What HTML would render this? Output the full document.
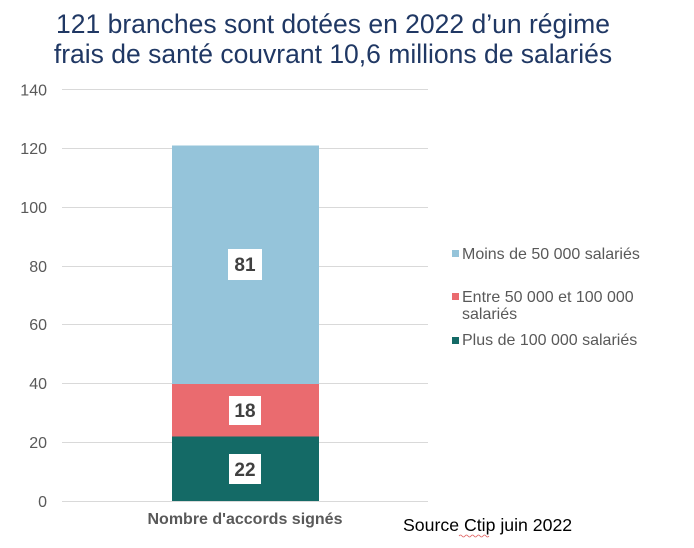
<!DOCTYPE html>
<html><head><meta charset="utf-8"><style>
html,body{margin:0;padding:0;background:#fff;}
svg{display:block;}
</style></head><body>
<svg width="694" height="548" viewBox="0 0 694 548" xmlns="http://www.w3.org/2000/svg" font-family="Liberation Sans, Arial, sans-serif">
<rect width="694" height="548" fill="#fff"/>
<text x="333" y="33" text-anchor="middle" font-size="26.5" fill="#203864">121 branches sont dotées en 2022 d’un régime</text>
<text x="333" y="63" text-anchor="middle" font-size="26.5" fill="#203864">frais de santé couvrant 10,6 millions de salariés</text>
<g stroke="#d9d9d9" stroke-width="1">
<line x1="62" x2="428" y1="89.5" y2="89.5"/>
<line x1="62" x2="428" y1="148.5" y2="148.5"/>
<line x1="62" x2="428" y1="207.5" y2="207.5"/>
<line x1="62" x2="428" y1="266.5" y2="266.5"/>
<line x1="62" x2="428" y1="324.5" y2="324.5"/>
<line x1="62" x2="428" y1="383.5" y2="383.5"/>
<line x1="62" x2="428" y1="442.5" y2="442.5"/>
<line x1="62" x2="428" y1="501.5" y2="501.5"/>
</g>
<g font-size="16" fill="#595959" text-anchor="end">
<text x="47" y="95.5">140</text>
<text x="47" y="154">120</text>
<text x="47" y="213">100</text>
<text x="47" y="272">80</text>
<text x="47" y="330">60</text>
<text x="47" y="389">40</text>
<text x="47" y="448">20</text>
<text x="47" y="507">0</text>
</g>
<rect x="172" y="145.5" width="147" height="238.5" fill="#95c4da"/>
<rect x="172" y="384" width="147" height="52.5" fill="#ea6b6f"/>
<rect x="172" y="436.5" width="147" height="64.5" fill="#146a66"/>
<rect x="228" y="249" width="34" height="31" fill="#fff"/>
<text x="245" y="271" text-anchor="middle" font-size="19" font-weight="bold" fill="#404040">81</text>
<rect x="229" y="396" width="32" height="29" fill="#fff"/>
<text x="245" y="417" text-anchor="middle" font-size="19" font-weight="bold" fill="#404040">18</text>
<rect x="229" y="454" width="32" height="30" fill="#fff"/>
<text x="245" y="476" text-anchor="middle" font-size="19" font-weight="bold" fill="#404040">22</text>
<text x="245" y="524" text-anchor="middle" font-size="16" font-weight="bold" fill="#595959">Nombre d'accords signés</text>
<g font-size="16" fill="#595959">
<rect x="452" y="250" width="7" height="7" fill="#95c4da"/>
<text x="462" y="259">Moins de 50 000 salariés</text>
<rect x="452" y="293" width="7" height="7" fill="#ea6b6f"/>
<text x="462" y="302">Entre 50 000 et 100 000</text>
<text x="462" y="319">salariés</text>
<rect x="452" y="337" width="7" height="7" fill="#146a66"/>
<text x="462" y="345">Plus de 100 000 salariés</text>
</g>
<text x="403" y="531" font-size="17.7" fill="#000">Source Ctip juin 2022</text>
<path d="M459 536 q1.5 -2 3 0 t3 0 t3 0 t3 0 t3 0 t3 0 t3 0 t3 0 t3 0 t3 0" stroke="#e06060" stroke-width="0.8" fill="none"/>
</svg>
</body></html>
